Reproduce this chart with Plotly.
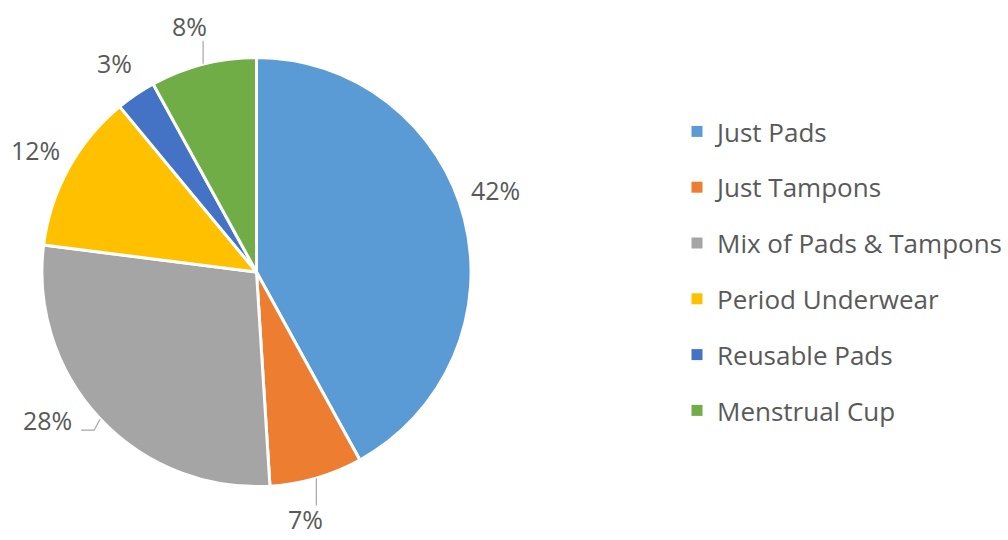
import math
import plotly.graph_objects as go

# Share of respondents by period product
categories = ["Just Pads", "Just Tampons", "Mix of Pads & Tampons",
              "Period Underwear", "Reusable Pads", "Menstrual Cup"]
shares = [42, 7, 28, 12, 3, 8]
colors = ["#5B9BD5", "#ED7D31", "#A5A5A5", "#FFC000", "#4472C4", "#70AD47"]

W, H = 1008, 540
CX, CY, R = 257, 272, 215          # pie centre and radius in pixels
FONT = "Open Sans"
TXT = "#595959"
FS = 25

fig = go.Figure()
fig.add_trace(go.Pie(
    labels=categories, values=shares, sort=False, direction="clockwise",
    rotation=0, marker=dict(colors=colors, line=dict(color="white", width=3)),
    textinfo="none", hoverinfo="label+percent", showlegend=False,
    domain=dict(x=[(CX - R) / W, (CX + R) / W],
                y=[(H - CY - R) / H, (H - CY + R) / H]),
))

# Legend entries as marker-only traces so the rows can be spaced out
for name, c in zip(categories, colors):
    fig.add_trace(go.Scatter(x=[None], y=[None], mode="markers", name=name,
                             legendgroup=name,
                             marker=dict(symbol="square", size=11, color=c)))


def px(x, y):
    return x / W, (H - y) / H


def edge(angle, rad=R):
    a = math.radians(angle)
    return CX + rad * math.sin(a), CY - rad * math.cos(a)


total = sum(shares)
cum = 0
mids = []
for v in shares:
    mids.append((cum + v / 2) / total * 360)
    cum += v

# small angular nudges for labels placed radially
nudge = {"Just Pads": -4.5}

line_style = dict(color="#A6A6A6", width=1.2)
annotations = []
shapes = []
for i, (v, m) in enumerate(zip(shares, mids)):
    label = f"{v}%"
    ex, ey = edge(m)
    name = categories[i]
    if name == "Menstrual Cup":
        lx, ly = ex - 14, ey - 38
        shapes.append(dict(type="line", xref="paper", yref="paper",
                           x0=px(ex, ey)[0], y0=px(ex, ey)[1],
                           x1=px(ex, ey - 23)[0], y1=px(ex, ey - 23)[1],
                           line=line_style))
    elif name == "Just Tampons":
        lx, ly = ex - 11, ey + 41
        shapes.append(dict(type="line", xref="paper", yref="paper",
                           x0=px(ex, ey)[0], y0=px(ex, ey)[1],
                           x1=px(ex, ey + 27)[0], y1=px(ex, ey + 27)[1],
                           line=line_style))
    elif name == "Mix of Pads & Tampons":
        kx, ky = ex - 6, ey + 11
        shapes.append(dict(type="path", xref="paper", yref="paper",
                           path=(f"M {px(ex, ey)[0]},{px(ex, ey)[1]} "
                                 f"L {px(kx, ky)[0]},{px(kx, ky)[1]} "
                                 f"L {px(kx - 13, ky)[0]},{px(kx - 13, ky)[1]}"),
                           line=line_style))
        lx, ly = kx - 47, ky - 10
    else:
        lx, ly = edge(m + nudge.get(name, 0), 253)
    ax, ay = px(lx, ly)
    annotations.append(dict(x=ax, y=ay, xref="paper", yref="paper",
                            text=label, showarrow=False,
                            xanchor="center", yanchor="middle",
                            font=dict(family=FONT, size=FS, color=TXT)))

fig.update_layout(
    width=W, height=H, paper_bgcolor="white", plot_bgcolor="white",
    margin=dict(l=0, r=0, t=0, b=0),
    xaxis=dict(visible=False, domain=[0.99, 1]),
    yaxis=dict(visible=False),
    annotations=annotations, shapes=shapes,
    legend=dict(x=0.673, y=0.80, xanchor="left", yanchor="top",
                tracegroupgap=19, itemwidth=30,
                font=dict(family=FONT, size=26, color=TXT)),
    showlegend=True,
)

fig.write_html("out.html")
